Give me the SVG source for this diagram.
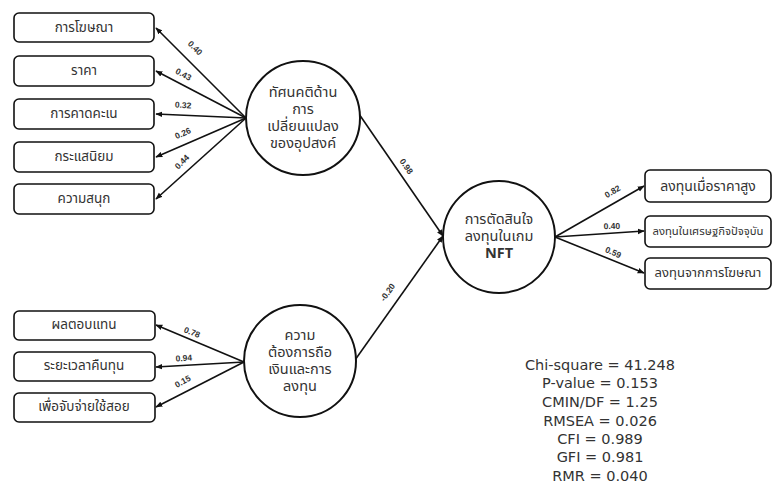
<svg xmlns="http://www.w3.org/2000/svg" width="782" height="486" viewBox="0 0 782 486">
<defs>
<marker id="ah" viewBox="0 0 10 10" refX="9" refY="5" markerWidth="7" markerHeight="7" orient="auto" markerUnits="userSpaceOnUse">
<path d="M0,1 L10,5 L0,9 z" fill="#111"/>
</marker>
<style>
.box{fill:#fff;stroke:#111;stroke-width:1.6}
.circ{fill:#fff;stroke:#111;stroke-width:2}
.t{font-family:"Noto Sans Thai","Noto Sans","DejaVu Sans",sans-serif;fill:#333;text-anchor:middle;dominant-baseline:central}
.bt{font-size:13.5px}
.ct{font-size:14.5px}
.lbl{font-family:"Liberation Sans",Arial,sans-serif;font-size:8.5px;font-weight:bold;fill:#333;text-anchor:middle}
.ln{stroke:#111;stroke-width:1.6;fill:none;marker-end:url(#ah)}
.st{font-family:"DejaVu Sans","Liberation Sans",sans-serif;font-size:14.5px;fill:#333;text-anchor:middle}
</style>
</defs>
<rect width="782" height="486" fill="#fff"/>

<g id="connectors">
<line class="ln" x1="246" y1="118" x2="156" y2="28"/>
<line class="ln" x1="246" y1="118" x2="156" y2="71"/>
<line class="ln" x1="246" y1="118" x2="156" y2="114"/>
<line class="ln" x1="246" y1="118" x2="156" y2="157"/>
<line class="ln" x1="246" y1="118" x2="156" y2="199"/>
<line class="ln" x1="244" y1="362" x2="156" y2="325"/>
<line class="ln" x1="244" y1="362" x2="156" y2="367"/>
<line class="ln" x1="244" y1="362" x2="156" y2="407"/>
<line class="ln" x1="359" y1="114" x2="443" y2="236"/>
<line class="ln" x1="355" y1="360" x2="443" y2="236"/>
<line class="ln" x1="555" y1="237" x2="644" y2="186"/>
<line class="ln" x1="555" y1="237" x2="644" y2="231"/>
<line class="ln" x1="555" y1="237" x2="644" y2="273"/>
<text class="lbl" transform="translate(193,50) rotate(45)">0.40</text>
<text class="lbl" transform="translate(182,77) rotate(28)">0.43</text>
<text class="lbl" transform="translate(183,108) rotate(3)">0.32</text>
<text class="lbl" transform="translate(184,136) rotate(-24)">0.26</text>
<text class="lbl" transform="translate(184,164) rotate(-45)">0.44</text>
<text class="lbl" transform="translate(191,335) rotate(22)">0.78</text>
<text class="lbl" transform="translate(184,361) rotate(-3)">0.94</text>
<text class="lbl" transform="translate(184,384) rotate(-28)">0.15</text>
<text class="lbl" transform="translate(404,168) rotate(55)">0.98</text>
<text class="lbl" transform="translate(390,294) rotate(-55)">-0.20</text>
<text class="lbl" transform="translate(614,194) rotate(-30)">0.82</text>
<text class="lbl" transform="translate(612,229) rotate(-2)">0.40</text>
<text class="lbl" transform="translate(612,255) rotate(24)">0.59</text>
</g>

<g id="n_ads"><rect class="box" x="14" y="13" width="140" height="29" rx="5"/><text class="t bt" x="84" y="28">การโฆษณา</text></g>
<g id="n_price"><rect class="box" x="14" y="56" width="140" height="30" rx="5"/><text class="t bt" x="84" y="71">ราคา</text></g>
<g id="n_expect"><rect class="box" x="14" y="99" width="140" height="30" rx="5"/><text class="t bt" x="84" y="114">การคาดคะเน</text></g>
<g id="n_trend"><rect class="box" x="14" y="142" width="140" height="30" rx="5"/><text class="t bt" x="84" y="157">กระแสนิยม</text></g>
<g id="n_fun"><rect class="box" x="14" y="184" width="140" height="30" rx="5"/><text class="t bt" x="84" y="199">ความสนุก</text></g>

<g id="n_demand"><circle class="circ" cx="303" cy="118" r="57"/>
<text class="t ct" x="303" y="93">ทัศนคติด้าน</text>
<text class="t ct" x="303" y="110">การ</text>
<text class="t ct" x="303" y="127">เปลี่ยนแปลง</text>
<text class="t ct" x="303" y="144">ของอุปสงค์</text></g>

<g id="n_money"><circle class="circ" cx="300" cy="361" r="56"/>
<text class="t ct" x="300" y="336">ความ</text>
<text class="t ct" x="300" y="353">ต้องการถือ</text>
<text class="t ct" x="300" y="370">เงินและการ</text>
<text class="t ct" x="300" y="387">ลงทุน</text></g>

<g id="n_decision"><circle class="circ" cx="499" cy="237" r="56"/>
<text class="t ct" x="499" y="220">การตัดสินใจ</text>
<text class="t ct" x="499" y="237">ลงทุนในเกม</text>
<text class="t ct" x="499" y="254" font-weight="bold">NFT</text></g>

<g id="n_high"><rect class="box" x="645" y="170" width="126" height="32" rx="5"/><text class="t" font-size="14" x="708" y="186">ลงทุนเมื่อราคาสูง</text></g>
<g id="n_econ"><rect class="box" x="645" y="216" width="126" height="31" rx="5"/><text class="t" font-size="11.3" x="708" y="231">ลงทุนในเศรษฐกิจปัจจุบัน</text></g>
<g id="n_adinv"><rect class="box" x="645" y="258" width="126" height="31" rx="5"/><text class="t" font-size="13" x="708" y="273">ลงทุนจากการโฆษณา</text></g>

<g id="n_return"><rect class="box" x="14" y="311" width="141" height="29" rx="5"/><text class="t bt" x="84" y="325">ผลตอบแทน</text></g>
<g id="n_payback"><rect class="box" x="14" y="352" width="141" height="29" rx="5"/><text class="t bt" x="84" y="366">ระยะเวลาคืนทุน</text></g>
<g id="n_spend"><rect class="box" x="14" y="393" width="141" height="29" rx="5"/><text class="t bt" x="84" y="407">เพื่อจับจ่ายใช้สอย</text></g>

<g id="stats">
<text class="st" x="600" y="370">Chi-square = 41.248</text>
<text class="st" x="600" y="388">P-value = 0.153</text>
<text class="st" x="600" y="407">CMIN/DF = 1.25</text>
<text class="st" x="600" y="426">RMSEA = 0.026</text>
<text class="st" x="600" y="444">CFI = 0.989</text>
<text class="st" x="600" y="462">GFI = 0.981</text>
<text class="st" x="600" y="481">RMR = 0.040</text>
</g>
</svg>
